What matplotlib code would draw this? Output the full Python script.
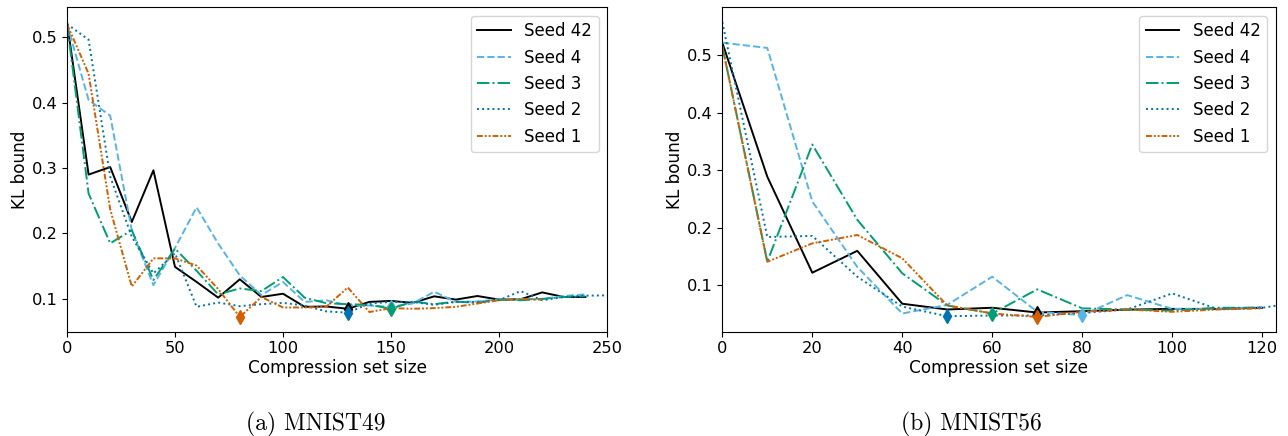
import matplotlib
matplotlib.use('Agg')
import matplotlib.pyplot as plt
import numpy as np

# MNIST49 (left panel)
mnist49_x = list(range(0, 250, 10))
mnist49_seed42 = [0.523, 0.290, 0.3015, 0.2176, 0.2965, 0.149, 0.126, 0.102, 0.130, 0.103,
                  0.108, 0.088, 0.0885, 0.085, 0.0955, 0.097, 0.094, 0.104, 0.099, 0.1045,
                  0.099, 0.0995, 0.110, 0.103, 0.103]
mnist49_seed4 = [0.520, 0.404, 0.380, 0.205, 0.121, 0.178, 0.240, 0.1845, 0.136, 0.106,
                 0.126, 0.0955, 0.098, 0.090, 0.090, 0.088, 0.093, 0.111, 0.0955, 0.096,
                 0.0995, 0.100, 0.100, 0.1045, 0.107]
mnist49_seed3 = [0.520, 0.261, 0.185, 0.205, 0.129, 0.177, 0.143, 0.107, 0.116, 0.112,
                 0.1335, 0.102, 0.0935, 0.092, 0.091, 0.085, 0.096, 0.092, 0.096, 0.094,
                 0.099, 0.098, 0.100, 0.103, 0.104]
mnist49_seed2_x = list(range(0, 260, 10))
mnist49_seed2 = [0.520, 0.496, 0.287, 0.195, 0.139, 0.170, 0.088, 0.0945, 0.089, 0.092,
                 0.094, 0.090, 0.081, 0.079, 0.093, 0.0955, 0.0955, 0.091, 0.0955, 0.0955,
                 0.098, 0.112, 0.098, 0.103, 0.105, 0.1055]
mnist49_seed1_x = list(range(0, 230, 10))
mnist49_seed1 = [0.520, 0.444, 0.237, 0.119, 0.162, 0.162, 0.151, 0.115, 0.0725, 0.103,
                 0.087, 0.087, 0.088, 0.1175, 0.080, 0.086, 0.085, 0.086, 0.088, 0.093,
                 0.098, 0.100, 0.099]

# MNIST56 (right panel)
mnist56_x = list(range(0, 130, 10))
mnist56_seed42 = [0.522, 0.289, 0.122, 0.160, 0.068, 0.058, 0.061, 0.0527, 0.055, 0.0577,
                  0.059, 0.059, 0.061]
mnist56_seed4 = [0.522, 0.513, 0.246, 0.132, 0.051, 0.066, 0.115, 0.054, 0.048, 0.083,
                 0.059, 0.059, 0.062]
mnist56_seed3 = [0.516, 0.141, 0.345, 0.214, 0.121, 0.065, 0.051, 0.093, 0.060, 0.058,
                 0.056, 0.061, 0.061]
mnist56_seed2_x = list(range(0, 130, 10)) + [123]
mnist56_seed2 = [0.558, 0.184, 0.186, 0.115, 0.063, 0.0463, 0.0475, 0.0475, 0.052, 0.058,
                 0.086, 0.059, 0.061, 0.0645]
mnist56_seed1 = [0.516, 0.141, 0.173, 0.1876, 0.147, 0.065, 0.051, 0.045, 0.054, 0.058,
                 0.054, 0.058, 0.060]

labels = ['Seed 42', 'Seed 4', 'Seed 3', 'Seed 2', 'Seed 1']
colors = ['black', '#56B4E9', '#009E73', '#0072B2', '#D55E00']
styles = ['-', '--', '-.', ':', (0, (3, 1, 1, 1, 1, 1))]

W, H = 1288, 436


def plot_panel(ax, xs, ys, xmax):
    for x, y, lab, c, ls in zip(xs, ys, labels, colors, styles):
        ax.plot(x, y, color=c, linestyle=ls, linewidth=1.4, label=lab)
    # mark the minimum of each seed
    for x, y, c in zip(xs, ys, colors):
        i = int(np.argmin(y))
        ax.plot(x[i], y[i], marker='d', color=c, markersize=7, zorder=5)
    ax.set_xlim(0, xmax)
    ax.set_xlabel('Compression set size', fontsize=12.2, labelpad=1.5)
    ax.set_ylabel('KL bound', fontsize=12.2, labelpad=2)
    ax.tick_params(labelsize=11.7)
    ax.legend(loc='upper right', fontsize=12)


def main():
    fig = plt.figure(figsize=(W / 100, H / 100), dpi=100)
    bottom = 1 - 331.7 / H
    height = 324.4 / H
    ax1 = fig.add_axes([67 / W, bottom, 540 / W, height])
    ax2 = fig.add_axes([722.3 / W, bottom, 553.4 / W, height])

    plot_panel(ax1,
               [mnist49_x, mnist49_x, mnist49_x, mnist49_seed2_x, mnist49_seed1_x],
               [mnist49_seed42, mnist49_seed4, mnist49_seed3, mnist49_seed2, mnist49_seed1],
               250)
    plot_panel(ax2,
               [mnist56_x, mnist56_x, mnist56_x, mnist56_seed2_x, mnist56_x],
               [mnist56_seed42, mnist56_seed4, mnist56_seed3, mnist56_seed2, mnist56_seed1],
               123)

    fig.text(316 / W, 1 - 430 / H, '(a) MNIST49', family='cmr10', fontsize=17,
             ha='center', va='baseline')
    fig.text(971.5 / W, 1 - 430 / H, '(b) MNIST56', family='cmr10', fontsize=17,
             ha='center', va='baseline')

    fig.savefig('out.png', dpi=100)
    plt.close(fig)


if __name__ == "__main__":
    main()
